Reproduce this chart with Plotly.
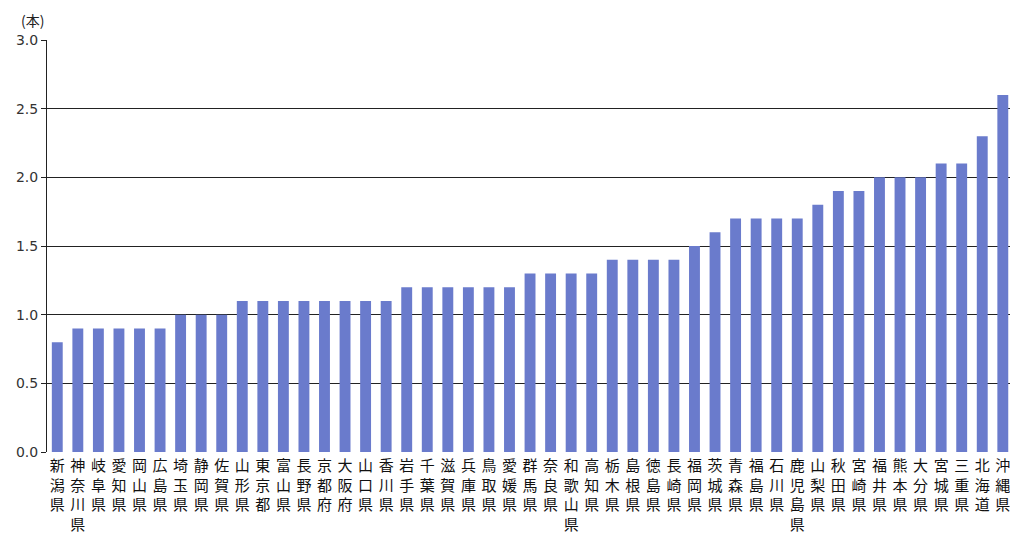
import plotly.graph_objects as go

prefectures = ["新潟県", "神奈川県", "岐阜県", "愛知県", "岡山県", "広島県", "埼玉県", "静岡県",
               "佐賀県", "山形県", "東京都", "富山県", "長野県", "京都府", "大阪府", "山口県",
               "香川県", "岩手県", "千葉県", "滋賀県", "兵庫県", "鳥取県", "愛媛県", "群馬県",
               "奈良県", "和歌山県", "高知県", "栃木県", "島根県", "徳島県", "長崎県", "福岡県",
               "茨城県", "青森県", "福島県", "石川県", "鹿児島県", "山梨県", "秋田県", "宮崎県",
               "福井県", "熊本県", "大分県", "宮城県", "三重県", "北海道", "沖縄県"]
values = [0.8, 0.9, 0.9, 0.9, 0.9, 0.9, 1.0, 1.0,
          1.0, 1.1, 1.1, 1.1, 1.1, 1.1, 1.1, 1.1,
          1.1, 1.2, 1.2, 1.2, 1.2, 1.2, 1.2, 1.3,
          1.3, 1.3, 1.3, 1.4, 1.4, 1.4, 1.4, 1.5,
          1.6, 1.7, 1.7, 1.7, 1.7, 1.8, 1.9, 1.9,
          2.0, 2.0, 2.0, 2.1, 2.1, 2.3, 2.6]
y_ticks = [0.0, 0.5, 1.0, 1.5, 2.0, 2.5, 3.0]
y_tick_labels = ["0.0", "0.5", "1.0", "1.5", "2.0", "2.5", "3.0"]
unit_label = "(本)"

x_idx = list(range(len(prefectures)))
vertical_labels = ["<br>".join(list(p)) for p in prefectures]

fig = go.Figure(go.Bar(
    x=x_idx, y=values,
    marker=dict(color="#6a7bcc", line=dict(width=0)),
    width=0.53,
))

fig.update_layout(
    width=1002, height=531,
    margin=dict(l=39, r=0, t=32, b=87),
    paper_bgcolor="white", plot_bgcolor="white",
    showlegend=False,
    font=dict(family="Noto Sans CJK JP", color="#222"),
    annotations=[dict(text=unit_label, xref="paper", yref="paper",
                      x=-0.001, y=1.0, xanchor="right", yanchor="bottom",
                      yshift=8, showarrow=False,
                      font=dict(size=14, family="Noto Sans CJK JP", color="#222"))],
)
fig.update_xaxes(
    range=[-0.5, 46.35],
    tickmode="array", tickvals=x_idx, ticktext=vertical_labels,
    tickangle=0, tickfont=dict(size=15, family="Noto Sans CJK JP", color="#111"),
    ticklabeloverflow="allow",
    showgrid=False, zeroline=False,
    showline=True, linecolor="white", linewidth=1,
    ticks="", ticklen=0,
)
fig.update_yaxes(
    range=[0, 3.0],
    tickmode="array", tickvals=y_ticks, ticktext=y_tick_labels,
    tickfont=dict(size=14, family="DejaVu Sans", color="#333"),
    showgrid=True, gridcolor="#222", gridwidth=1,
    zeroline=False,
    showline=True, linecolor="#222", linewidth=1,
    ticks="outside", ticklen=5, tickcolor="#222",
)

fig.write_html("out.html")
